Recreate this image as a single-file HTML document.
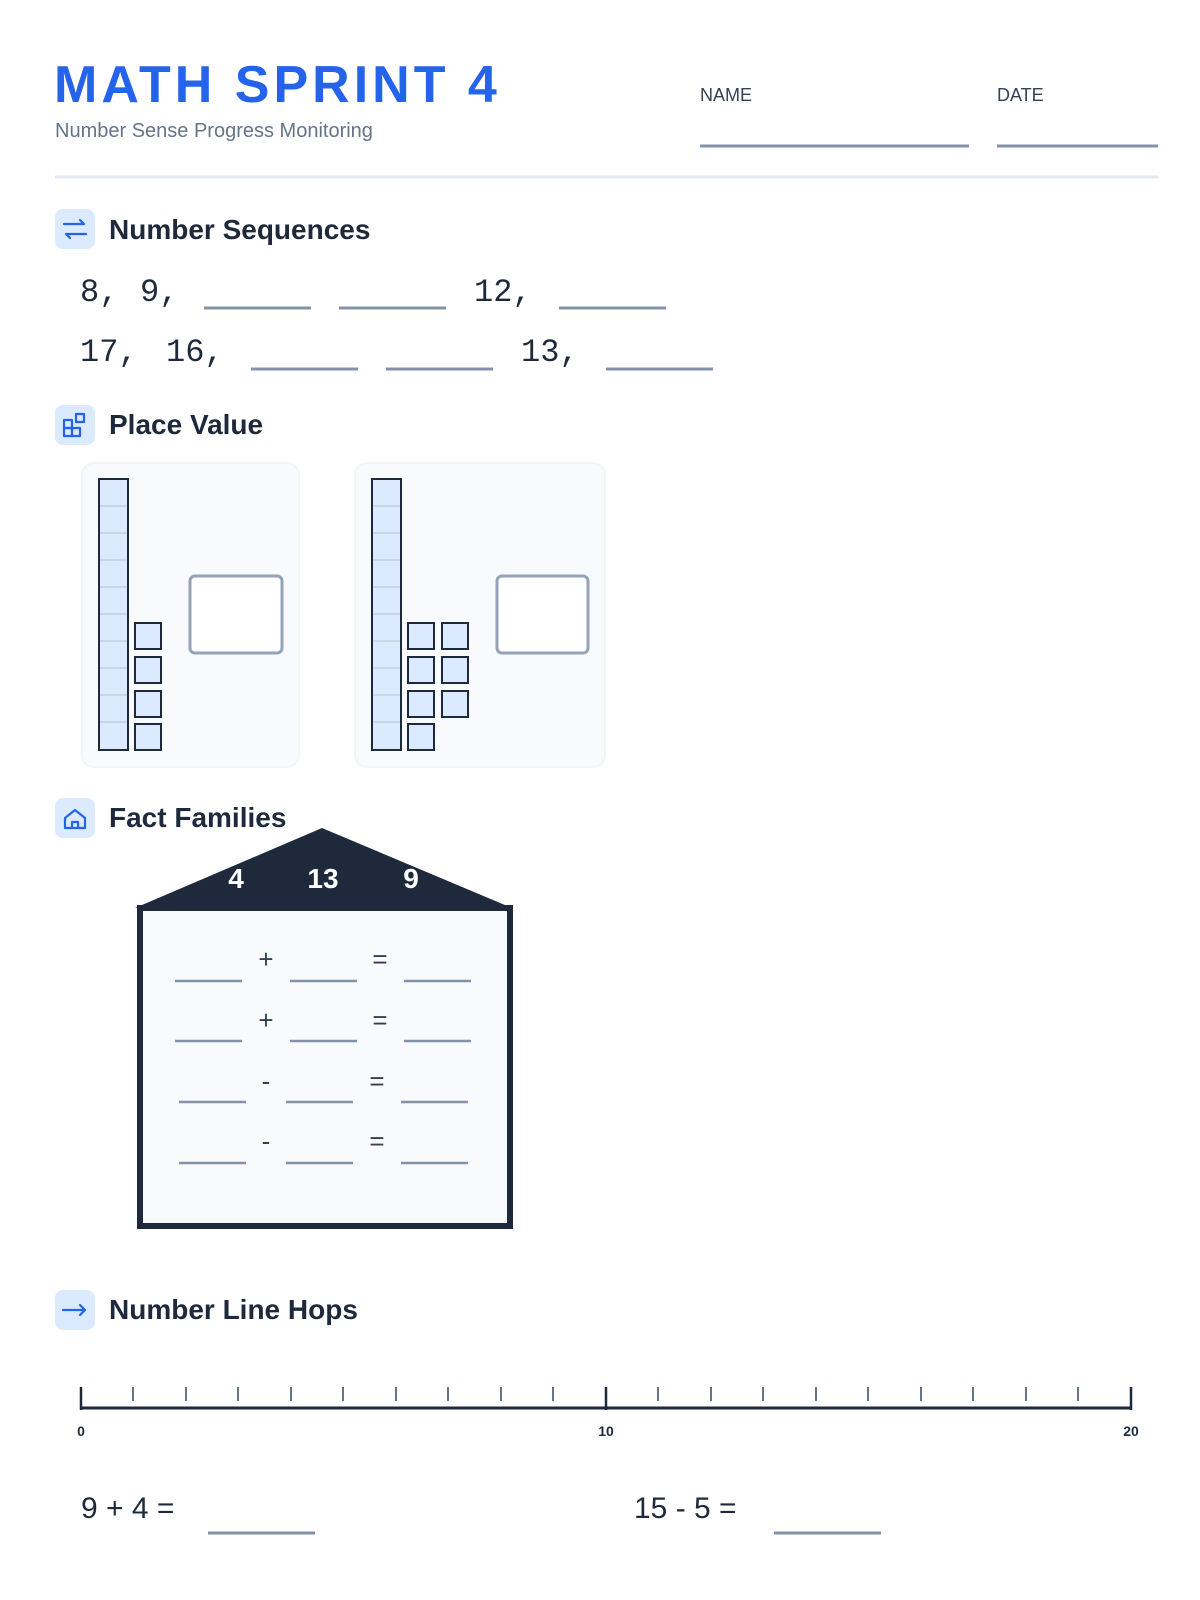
<!DOCTYPE html>
<html><head><meta charset="utf-8"><style>
html,body{margin:0;padding:0;background:#fff;}
svg{display:block;font-family:"Liberation Sans",sans-serif;}
</style></head><body>
<svg width="1200" height="1600" viewBox="0 0 1200 1600" xmlns="http://www.w3.org/2000/svg">
<text x="54" y="102" font-size="52" font-weight="bold" fill="#2563eb" letter-spacing="4">MATH SPRINT 4</text>
<text x="55" y="137" font-size="20" fill="#64748b">Number Sense Progress Monitoring</text>
<text x="700" y="101" font-size="18" fill="#334155">NAME</text>
<line x1="700" y1="146" x2="969" y2="146" stroke="#8492a9" stroke-width="3"/>
<text x="997" y="101" font-size="18" fill="#334155">DATE</text>
<line x1="997" y1="146" x2="1158" y2="146" stroke="#8492a9" stroke-width="3"/>
<line x1="55" y1="177" x2="1158" y2="177" stroke="#e2e8f0" stroke-width="3"/>

<g fill="#dbeafe"><rect x="55" y="209" width="40" height="40" rx="8"/><rect x="55" y="405" width="40" height="40" rx="8"/><rect x="55" y="798" width="40" height="40" rx="8"/><rect x="55" y="1290" width="40" height="40" rx="8"/></g>
<g stroke="#2563eb" stroke-width="2.2" fill="none" stroke-linecap="round" stroke-linejoin="round">
<path d="M64 224h20l-4-4M86 234H66l4 4"/>
<rect x="64" y="420" width="8" height="8"/><rect x="64" y="428" width="8" height="8"/><rect x="72" y="428" width="8" height="8"/><rect x="76" y="414" width="8" height="8"/>
<path d="M65 828v-10l10-8 10 8v10zM72 828v-6h6v6"/>
<path d="M63 1310h22l-5-5M85 1310l-5 5"/>
</g>
<g font-size="28" font-weight="bold" fill="#1e293b">
<text x="109" y="239">Number Sequences</text>
<text x="109" y="434">Place Value</text>
<text x="109" y="827">Fact Families</text>
<text x="109" y="1319">Number Line Hops</text>
</g>

<g font-size="32" fill="#1e293b" font-family="Liberation Mono, monospace">
<text x="80" y="301">8,</text><text x="140" y="301">9,</text><text x="474" y="301">12,</text>
<text x="80" y="361">17,</text><text x="166" y="361">16,</text><text x="521" y="361">13,</text>
</g>
<g stroke="#8492a9" stroke-width="3">
<line x1="204" y1="308" x2="311" y2="308"/><line x1="339" y1="308" x2="446" y2="308"/><line x1="559" y1="308" x2="666" y2="308"/>
<line x1="251" y1="369" x2="358" y2="369"/><line x1="386" y1="369" x2="493" y2="369"/><line x1="606" y1="369" x2="713" y2="369"/>
</g>

<rect x="82" y="463" width="217" height="304" rx="12" fill="#f8fafc" stroke="#f1f5f9" stroke-width="2"/>
<rect x="355" y="463" width="250" height="304" rx="12" fill="#f8fafc" stroke="#f1f5f9" stroke-width="2"/>
<g fill="#dbeafe" stroke="#1e293b" stroke-width="2">
<rect x="99" y="479" width="29" height="271"/>
<rect x="372" y="479" width="29" height="271"/>
<rect x="135" y="623" width="26" height="26"/><rect x="135" y="657" width="26" height="26"/><rect x="135" y="691" width="26" height="26"/><rect x="135" y="724" width="26" height="26"/>
<rect x="408" y="623" width="26" height="26"/><rect x="408" y="657" width="26" height="26"/><rect x="408" y="691" width="26" height="26"/><rect x="408" y="724" width="26" height="26"/>
<rect x="442" y="623" width="26" height="26"/><rect x="442" y="657" width="26" height="26"/><rect x="442" y="691" width="26" height="26"/>
</g>
<g stroke="#b8c3d3" stroke-width="1">
<path d="M100 506h27M100 533h27M100 560h27M100 587h27M100 614h27M100 641h27M100 668h27M100 695h27M100 722h27"/>
<path d="M373 506h27M373 533h27M373 560h27M373 587h27M373 614h27M373 641h27M373 668h27M373 695h27M373 722h27"/>
</g>
<rect x="190" y="576" width="92" height="77" rx="5" fill="#fff" stroke="#94a3b8" stroke-width="3"/>
<rect x="497" y="576" width="91" height="77" rx="5" fill="#fff" stroke="#94a3b8" stroke-width="3"/>

<polygon points="322,828 135,908 512,908" fill="#1e293b"/>
<rect x="140" y="908" width="370" height="318" fill="#f8fafc" stroke="#1e293b" stroke-width="6"/>
<g font-size="28" font-weight="bold" fill="#fff" text-anchor="middle">
<text x="236" y="888">4</text><text x="323" y="888">13</text><text x="411" y="888">9</text>
</g>
<g font-size="26" fill="#334155" text-anchor="middle">
<text x="266" y="968">+</text><text x="380" y="968">=</text>
<text x="266" y="1029">+</text><text x="380" y="1029">=</text>
<text x="266" y="1090">-</text><text x="377" y="1090">=</text>
<text x="266" y="1150">-</text><text x="377" y="1150">=</text>
</g>
<g stroke="#8492a9" stroke-width="2.5">
<path d="M175 981h67M290 981h67M404 981h67"/>
<path d="M175 1041h67M290 1041h67M404 1041h67"/>
<path d="M179 1102h67M286 1102h67M401 1102h67"/>
<path d="M179 1163h67M286 1163h67M401 1163h67"/>
</g>

<line x1="80" y1="1408" x2="1131" y2="1408" stroke="#1e293b" stroke-width="3"/>
<g stroke="#1e293b" stroke-width="2.5"><path d="M81 1387v23M606 1387v23M1131 1387v23"/></g>
<g stroke="#64748b" stroke-width="2">
<path d="M133 1387v14M186 1387v14M238 1387v14M291 1387v14M343 1387v14M396 1387v14M448 1387v14M501 1387v14M553 1387v14"/>
<path d="M658 1387v14M711 1387v14M763 1387v14M816 1387v14M868 1387v14M921 1387v14M973 1387v14M1026 1387v14M1078 1387v14"/>
</g>
<g font-size="14" font-weight="bold" fill="#1e293b" text-anchor="middle">
<text x="81" y="1436">0</text><text x="606" y="1436">10</text><text x="1131" y="1436">20</text>
</g>
<g font-size="30" fill="#1e293b">
<text x="81" y="1518">9 + 4 =</text>
<text x="634" y="1518">15 - 5 =</text>
</g>
<g stroke="#8492a9" stroke-width="3"><path d="M208 1533h107M774 1533h107"/></g>
</svg>
</body></html>
